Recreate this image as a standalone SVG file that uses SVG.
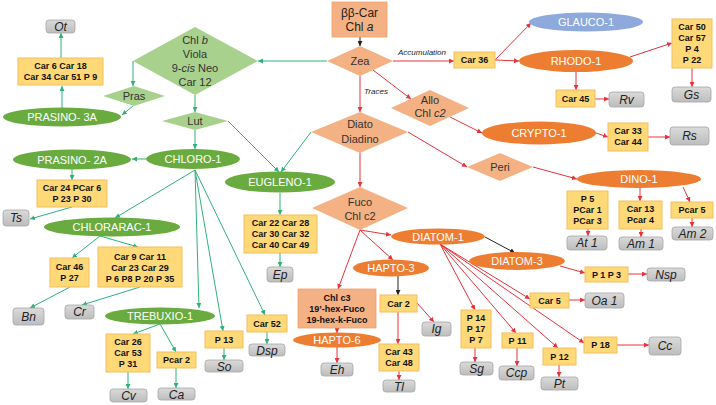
<svg xmlns="http://www.w3.org/2000/svg" width="716" height="405" viewBox="0 0 716 405">
<style>
.yb{fill:#FFD877;stroke:#F5BE5E;stroke-width:1}
.gb{fill:url(#gg);stroke:#A6A6A6;stroke-width:0.8}
.sb{fill:#F4B183;stroke:#EFA070;stroke-width:0.8}
.ge{fill:#6AAB3F}
.oe{fill:#ED7D31}
.be{fill:#8EA9DB}
.gd{fill:#A9D18E}
.sd{fill:#F4B183}
text{font-family:"Liberation Sans",Arial,sans-serif;text-anchor:middle}
.t9{font-weight:bold;font-size:9px;fill:#111}
.te{font-size:11px;fill:#fff}
.ti{font-style:italic;font-size:12px;fill:#222}
.td{font-size:11px;fill:#333}
.tl{font-style:italic;font-size:8px;fill:#222}
.cg{stroke:#2EB27A;stroke-width:1;fill:none;marker-end:url(#ag)}
.cr{stroke:#E8333A;stroke-width:1;fill:none;marker-end:url(#ar)}
.ck{stroke:#222;stroke-width:1;fill:none;marker-end:url(#ak)}
</style>
<defs>
<linearGradient id="gg" x1="0" y1="0" x2="0" y2="1"><stop offset="0" stop-color="#DADADA"/><stop offset="1" stop-color="#BDBDBD"/></linearGradient>
<marker id="ag" viewBox="0 0 6 6" refX="6" refY="3" markerWidth="5" markerHeight="5" orient="auto" markerUnits="userSpaceOnUse"><path d="M0,0L6,3L0,6z" fill="#2EB27A"/></marker>
<marker id="ar" viewBox="0 0 6 6" refX="6" refY="3" markerWidth="5" markerHeight="5" orient="auto" markerUnits="userSpaceOnUse"><path d="M0,0L6,3L0,6z" fill="#E8333A"/></marker>
<marker id="ak" viewBox="0 0 6 6" refX="6" refY="3" markerWidth="5" markerHeight="5" orient="auto" markerUnits="userSpaceOnUse"><path d="M0,0L6,3L0,6z" fill="#222"/></marker>
</defs>
<rect width="716" height="405" fill="#fff"/>

<g id="connectors">
<path class="cg" d="M327,61L258,61"/>
<path class="cg" d="M133,61L133,86"/>
<path class="cg" d="M133,106L122,115"/>
<path class="cg" d="M62,108L62,86"/>
<path class="cg" d="M61,58L61,33"/>
<path class="cg" d="M195,95L195,112"/>
<path class="cg" d="M195,130L195,149"/>
<path class="cg" d="M228,121L279,172"/>
<path class="cg" d="M311,132L281,172"/>
<path class="cg" d="M146,159L132,159"/>
<path class="cg" d="M72,169L72,180"/>
<path class="cg" d="M72,207L30,219"/>
<path class="cg" d="M195,170L115,218"/>
<path class="cg" d="M195,170L199,308"/>
<path class="cg" d="M195,170L223,331"/>
<path class="cg" d="M195,170L265,315"/>
<path class="cg" d="M100,236L72,258"/>
<path class="cg" d="M100,236L138,247"/>
<path class="cg" d="M70,287L30,308"/>
<path class="cg" d="M140,287L82,305"/>
<path class="cg" d="M160,324L133,334"/>
<path class="cg" d="M160,324L176,352"/>
<path class="cg" d="M128,372L128,389"/>
<path class="cg" d="M176,368L176,388"/>
<path class="cg" d="M224,348L224,360"/>
<path class="cg" d="M267,332L267,344"/>
<path class="cg" d="M280,193L280,215"/>
<path class="cg" d="M280,253L280,267"/>
<path class="ck" d="M360,37L360,46"/>
<path class="ck" d="M485,237L515,253"/>
<path class="ck" d="M398,276L398,295"/>
<path class="cr" d="M393,61L454,61"/>
<path class="cr" d="M495,60L531,23"/>
<path class="cr" d="M495,60L519,61"/>
<path class="cr" d="M630,57L672,43"/>
<path class="cr" d="M576,72L576,90"/>
<path class="cr" d="M595,99L609,99"/>
<path class="cr" d="M692,68L692,87"/>
<path class="cr" d="M360,76L360,112"/>
<path class="cr" d="M373,70L411,99"/>
<path class="cr" d="M450,117L482,133"/>
<path class="cr" d="M596,133L608,137"/>
<path class="cr" d="M648,137L670,137"/>
<path class="cr" d="M408,132L467,167"/>
<path class="cr" d="M533,167L577,179"/>
<path class="cr" d="M640,188L640,201"/>
<path class="cr" d="M683,187L690,202"/>
<path class="cr" d="M588,229L588,236"/>
<path class="cr" d="M641,229L641,237"/>
<path class="cr" d="M692,218L692,227"/>
<path class="cr" d="M360,153L360,187"/>
<path class="cr" d="M360,230L391,235"/>
<path class="cr" d="M360,230L393,260"/>
<path class="cr" d="M360,230L338,289"/>
<path class="cr" d="M337,328L337,333"/>
<path class="cr" d="M337,347L337,363"/>
<path class="cr" d="M560,266L585,273"/>
<path class="cr" d="M628,274L647,274"/>
<path class="cr" d="M440,244L530,299"/>
<path class="cr" d="M569,300L585,300"/>
<path class="cr" d="M440,244L584,343"/>
<path class="cr" d="M617,345L649,345"/>
<path class="cr" d="M440,244L558,348"/>
<path class="cr" d="M559,365L559,377"/>
<path class="cr" d="M440,244L516,333"/>
<path class="cr" d="M517,348L517,366"/>
<path class="cr" d="M440,244L475,310"/>
<path class="cr" d="M475,348L475,362"/>
<path class="cr" d="M417,303L434,322"/>
<path class="cr" d="M398,312L398,344"/>
<path class="cr" d="M399,371L399,380"/>
<text class="tl" x="422" y="55">Accumulation</text>
<text class="tl" x="376" y="94">Traces</text>
</g>

<g id="bbcar"><rect class="sb" x="332" y="2" width="55" height="35"/><text x="359.5" y="17" style="font-size:12px;fill:#222">ββ-Car</text><text x="359.5" y="31" style="font-size:12px;fill:#222">Chl <tspan font-style="italic">a</tspan></text></g>
<g id="zea"><polygon class="sd" points="360,46 393,61 360,76 327,61"/><text class="td" x="360" y="65">Zea</text></g>
<g id="chlb"><polygon class="gd" points="195,27 258,61 195,95 133,61"/><text class="td" x="195" y="44">Chl <tspan font-style="italic">b</tspan></text><text class="td" x="195" y="58">Viola</text><text class="td" x="195" y="72">9-<tspan font-style="italic">cis</tspan> Neo</text><text class="td" x="195" y="86">Car 12</text></g>
<g id="pras"><polygon class="gd" points="134,86 165,96 134,106 103,96"/><text class="td" x="134" y="100">Pras</text></g>
<g id="prasino3a"><ellipse class="ge" cx="62" cy="117" rx="59" ry="9.5"/><text class="te" x="62" y="121">PRASINO- 3A</text></g>
<g id="b-car6"><rect class="yb" x="18" y="58" width="85" height="27"/><text class="t9" x="60.5" y="69">Car 6 Car 18</text><text class="t9" x="60.5" y="80">Car 34 Car 51 P 9</text></g>
<g id="ot"><rect class="gb" x="46" y="20" width="29" height="13" rx="3"/><text class="ti" x="60.5" y="31">Ot</text></g>
<g id="lut"><polygon class="gd" points="195,112 228,121 195,130 162,121"/><text class="td" x="195" y="125">Lut</text></g>
<g id="chloro1"><ellipse class="ge" cx="193" cy="159" rx="47" ry="10"/><text class="te" x="193" y="163">CHLORO-1</text></g>
<g id="prasino2a"><ellipse class="ge" cx="72" cy="159.5" rx="59" ry="10"/><text class="te" x="72" y="163.5">PRASINO- 2A</text></g>
<g id="b-car24"><rect class="yb" x="37" y="180" width="70" height="27"/><text class="t9" x="72" y="191">Car 24 PCar 6</text><text class="t9" x="72" y="202">P 23 P 30</text></g>
<g id="ts"><rect class="gb" x="3" y="210" width="26" height="16" rx="3"/><text class="ti" x="16" y="222">Ts</text></g>
<g id="chlorarac1"><ellipse class="ge" cx="112" cy="227" rx="68" ry="9.5"/><text class="te" x="112" y="231">CHLORARAC-1</text></g>
<g id="b-car46"><rect class="yb" x="50" y="258" width="39" height="29"/><text class="t9" x="69.5" y="270">Car 46</text><text class="t9" x="69.5" y="281">P 27</text></g>
<g id="b-car9"><rect class="yb" x="98" y="247" width="84" height="40"/><text class="t9" x="140" y="260">Car 9 Car 11</text><text class="t9" x="140" y="271">Car 23 Car 29</text><text class="t9" x="140" y="282">P 6 P8 P 20 P 35</text></g>
<g id="bn"><rect class="gb" x="13" y="308" width="31" height="17" rx="3"/><text class="ti" x="28.5" y="321">Bn</text></g>
<g id="cr"><rect class="gb" x="65" y="305" width="29" height="14" rx="3"/><text class="ti" x="79.5" y="316">Cr</text></g>
<g id="trebuxio1"><ellipse class="ge" cx="160" cy="316" rx="55" ry="8.5"/><text class="te" x="160" y="320">TREBUXIO-1</text></g>
<g id="b-car26"><rect class="yb" x="106" y="334" width="44" height="38"/><text class="t9" x="128" y="345">Car 26</text><text class="t9" x="128" y="356">Car 53</text><text class="t9" x="128" y="367">P 31</text></g>
<g id="b-pcar2"><rect class="yb" x="157" y="352" width="39" height="16"/><text class="t9" x="176.5" y="363">Pcar 2</text></g>
<g id="cv"><rect class="gb" x="110" y="389" width="37" height="13" rx="3"/><text class="ti" x="128.5" y="400">Cv</text></g>
<g id="ca"><rect class="gb" x="158" y="388" width="37" height="12" rx="3"/><text class="ti" x="176.5" y="398.5">Ca</text></g>
<g id="b-p13"><rect class="yb" x="205" y="331" width="38" height="17"/><text class="t9" x="224" y="342.5">P 13</text></g>
<g id="so"><rect class="gb" x="205" y="360" width="38" height="12" rx="3"/><text class="ti" x="224" y="370.5">So</text></g>
<g id="b-car52"><rect class="yb" x="247" y="315" width="40" height="17"/><text class="t9" x="267" y="326.5">Car 52</text></g>
<g id="dsp"><rect class="gb" x="249" y="344" width="36" height="12" rx="3"/><text class="ti" x="267" y="354.5">Dsp</text></g>
<g id="eugleno1"><ellipse class="ge" cx="280" cy="182" rx="55" ry="10.5"/><text class="te" x="280" y="186">EUGLENO-1</text></g>
<g id="b-car22"><rect class="yb" x="244" y="215" width="73" height="38"/><text class="t9" x="280.5" y="226">Car 22 Car 28</text><text class="t9" x="280.5" y="237">Car 30 Car 32</text><text class="t9" x="280.5" y="248">Car 40 Car 49</text></g>
<g id="ep"><rect class="gb" x="267" y="267" width="26" height="15" rx="3"/><text class="ti" x="280" y="278.5">Ep</text></g>
<g id="b-car36"><rect class="yb" x="454" y="52" width="41" height="16"/><text class="t9" x="474.5" y="63">Car 36</text></g>
<g id="glauco1"><ellipse class="be" cx="586" cy="22" rx="57" ry="9.5"/><text class="te" x="586" y="26">GLAUCO-1</text></g>
<g id="rhodo1"><ellipse class="oe" cx="576" cy="61" rx="57" ry="11"/><text class="te" x="576" y="65">RHODO-1</text></g>
<g id="b-car50"><rect class="yb" x="672" y="19" width="40" height="49"/><text class="t9" x="692" y="30">Car 50</text><text class="t9" x="692" y="41">Car 57</text><text class="t9" x="692" y="52">P 4</text><text class="t9" x="692" y="63">P 22</text></g>
<g id="gs"><rect class="gb" x="672" y="87" width="39" height="15" rx="3"/><text class="ti" x="691.5" y="98.5">Gs</text></g>
<g id="b-car45"><rect class="yb" x="556" y="90" width="39" height="17"/><text class="t9" x="575.5" y="101.5">Car 45</text></g>
<g id="rv"><rect class="gb" x="609" y="92" width="35" height="15" rx="3"/><text class="ti" x="626.5" y="103.5">Rv</text></g>
<g id="allo"><polygon class="sd" points="430,90 469,108 430,126 391,108"/><text class="td" x="430" y="103.5">Allo</text><text class="td" x="430" y="117">Chl <tspan font-style="italic">c2</tspan></text></g>
<g id="crypto1"><ellipse class="oe" cx="539" cy="133" rx="57" ry="11.5"/><text class="te" x="539" y="137">CRYPTO-1</text></g>
<g id="b-car33"><rect class="yb" x="608" y="123" width="40" height="28"/><text class="t9" x="628" y="134">Car 33</text><text class="t9" x="628" y="145">Car 44</text></g>
<g id="rs"><rect class="gb" x="670" y="127" width="39" height="18" rx="3"/><text class="ti" x="689.5" y="140">Rs</text></g>
<g id="diato"><polygon class="sd" points="360,112 408,132 360,153 311,132"/><text class="td" x="360" y="128">Diato</text><text class="td" x="360" y="143">Diadino</text></g>
<g id="peri"><polygon class="sd" points="500,153 533,167 500,181 467,167"/><text class="td" x="500" y="171">Peri</text></g>
<g id="dino1"><ellipse class="oe" cx="639" cy="179" rx="62" ry="9"/><text class="te" x="639" y="183">DINO-1</text></g>
<g id="b-p5"><rect class="yb" x="567" y="191" width="41" height="38"/><text class="t9" x="587.5" y="202">P 5</text><text class="t9" x="587.5" y="213">PCar 1</text><text class="t9" x="587.5" y="224">PCar 3</text></g>
<g id="b-car13"><rect class="yb" x="619" y="201" width="43" height="28"/><text class="t9" x="640.5" y="212">Car 13</text><text class="t9" x="640.5" y="223">Pcar 4</text></g>
<g id="b-pcar5"><rect class="yb" x="671" y="202" width="42" height="16"/><text class="t9" x="692" y="213">Pcar 5</text></g>
<g id="at1"><rect class="gb" x="567" y="236" width="40" height="14" rx="3"/><text class="ti" x="587" y="247">At 1</text></g>
<g id="am1"><rect class="gb" x="619" y="237" width="44" height="13" rx="3"/><text class="ti" x="641" y="247.5">Am 1</text></g>
<g id="am2"><rect class="gb" x="672" y="227" width="41" height="13" rx="3"/><text class="ti" x="692.5" y="237.5">Am 2</text></g>
<g id="fuco"><polygon class="sd" points="360,187 408,208 360,230 312,208"/><text class="td" x="360" y="206">Fuco</text><text class="td" x="360" y="220">Chl c2</text></g>
<g id="diatom1"><ellipse class="oe" cx="438" cy="236.5" rx="47" ry="8"/><text class="te" x="438" y="240.5">DIATOM-1</text></g>
<g id="diatom3"><ellipse class="oe" cx="517" cy="261" rx="48" ry="9"/><text class="te" x="517" y="265">DIATOM-3</text></g>
<g id="hapto3"><ellipse class="oe" cx="391" cy="268" rx="38" ry="8.5"/><text class="te" x="391" y="272">HAPTO-3</text></g>
<g id="b-chlc3"><rect class="sb" x="298" y="289" width="78" height="39"/><text class="t9" x="337" y="300.5">Chl c3</text><text class="t9" x="337" y="311.5">19’-hex-Fuco</text><text class="t9" x="337" y="322.5">19-hex-k-Fuco</text></g>
<g id="hapto6"><ellipse class="oe" cx="337" cy="340" rx="44" ry="7.5"/><text class="te" x="337" y="344">HAPTO-6</text></g>
<g id="eh"><rect class="gb" x="321" y="363" width="32" height="13" rx="3"/><text class="ti" x="337" y="374">Eh</text></g>
<g id="b-car2"><rect class="yb" x="380" y="295" width="37" height="17"/><text class="t9" x="398.5" y="306.5">Car 2</text></g>
<g id="ig"><rect class="gb" x="422" y="322" width="29" height="14" rx="3"/><text class="ti" x="436.5" y="333">Ig</text></g>
<g id="b-car43"><rect class="yb" x="379" y="344" width="40" height="27"/><text class="t9" x="399" y="355">Car 43</text><text class="t9" x="399" y="366">Car 48</text></g>
<g id="tl"><rect class="gb" x="383" y="380" width="32" height="12" rx="3"/><text class="ti" x="399" y="390.5">Tl</text></g>
<g id="b-p1p3"><rect class="yb" x="585" y="267" width="43" height="15"/><text class="t9" x="606.5" y="277.5">P 1 P 3</text></g>
<g id="nsp"><rect class="gb" x="647" y="268" width="38" height="13" rx="3"/><text class="ti" x="666" y="278.5">Nsp</text></g>
<g id="b-car5"><rect class="yb" x="530" y="293" width="39" height="15"/><text class="t9" x="549.5" y="303.5">Car 5</text></g>
<g id="oa1"><rect class="gb" x="585" y="293" width="39" height="15" rx="3"/><text class="ti" x="604.5" y="304.5">Oa 1</text></g>
<g id="b-p18"><rect class="yb" x="584" y="337" width="33" height="16"/><text class="t9" x="600.5" y="348">P 18</text></g>
<g id="cc"><rect class="gb" x="649" y="337" width="32" height="18" rx="3"/><text class="ti" x="665" y="350">Cc</text></g>
<g id="b-p12"><rect class="yb" x="543" y="348" width="33" height="17"/><text class="t9" x="559.5" y="359.5">P 12</text></g>
<g id="pt"><rect class="gb" x="541" y="377" width="37" height="13" rx="3"/><text class="ti" x="559.5" y="387.5">Pt</text></g>
<g id="b-p11"><rect class="yb" x="502" y="333" width="31" height="15"/><text class="t9" x="517.5" y="343.5">P 11</text></g>
<g id="ccp"><rect class="gb" x="499" y="366" width="35" height="14" rx="3"/><text class="ti" x="516.5" y="377">Ccp</text></g>
<g id="b-p14"><rect class="yb" x="461" y="310" width="30" height="38"/><text class="t9" x="476" y="321">P 14</text><text class="t9" x="476" y="332">P 17</text><text class="t9" x="476" y="343">P 7</text></g>
<g id="sg"><rect class="gb" x="460" y="362" width="33" height="13" rx="3"/><text class="ti" x="476.5" y="372.5">Sg</text></g>
</svg>
